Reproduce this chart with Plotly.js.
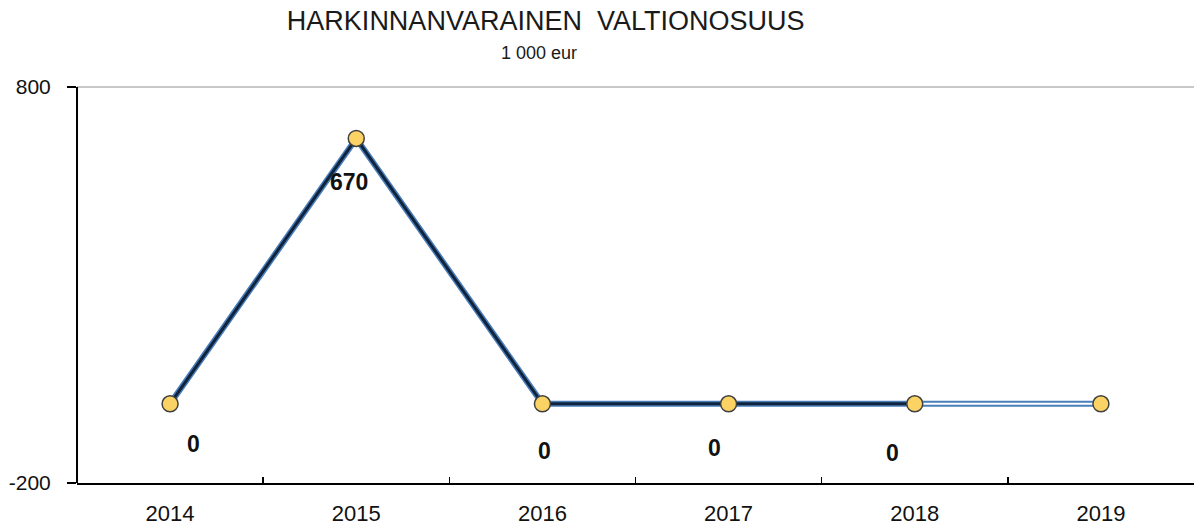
<!DOCTYPE html>
<html>
<head>
<meta charset="utf-8">
<script src="https://cdn.plot.ly/plotly-3.0.1.min.js"></script>
<style>html,body{margin:0;padding:0;background:#fff}#chart{width:1194px;height:526px}</style>
</head>
<body>
<div id="chart"></div>
<script>
const years = ['2014', '2015', '2016', '2017', '2018', '2019'];
const values = [0, 670, 0, 0, 0, 0];
const labelYears = ['2014', '2015', '2016', '2017', '2018'];
const labelValues = [0, 670, 0, 0, 0];
const labelShiftX = [23, -7, 2, -14, -22];
const labelShiftY = [-40, -44, -47, -44, -49];

const solidYears = years.slice(0, 5), solidValues = values.slice(0, 5);
const hollowYears = years.slice(4), hollowValues = values.slice(4);

const traces = [
  {x: years, y: values, type: 'scatter', mode: 'lines', line: {color: '#4A7EBB', width: 6}, hoverinfo: 'skip'},
  {x: hollowYears, y: hollowValues, type: 'scatter', mode: 'lines', line: {color: '#ffffff', width: 2}, hoverinfo: 'skip'},
  {x: solidYears, y: solidValues, type: 'scatter', mode: 'lines', line: {color: '#10243E', width: 3}, hoverinfo: 'skip'},
  {x: years, y: values, type: 'scatter', mode: 'markers',
   marker: {size: 16, color: '#FAD364', line: {color: '#404040', width: 1.5}}}
];

const annotations = labelYears.map((yr, i) => ({
  x: years.indexOf(yr), y: labelValues[i], xref: 'x', yref: 'y', text: String(labelValues[i]),
  showarrow: false, xshift: labelShiftX[i], yshift: labelShiftY[i],
  xanchor: 'center', yanchor: 'middle',
  font: {family: 'Liberation Sans, Arial, sans-serif', size: 23, color: '#111', weight: 'bold'}
}));
annotations.push({
  text: '1 000 eur', xref: 'paper', yref: 'paper', x: 0.4136, y: 1.075,
  xanchor: 'center', yanchor: 'middle', showarrow: false,
  font: {family: 'Liberation Sans, Arial, sans-serif', size: 18, color: '#1a1a1a'}
});

const layout = {
  width: 1194, height: 526,
  margin: {l: 77, r: 0, t: 83, b: 43, pad: 0},
  paper_bgcolor: '#ffffff', plot_bgcolor: '#ffffff',
  showlegend: false,
  title: {text: 'HARKINNANVARAINEN  VALTIONOSUUS', xref: 'container', yref: 'container',
          x: 0.457, y: 0.96, xanchor: 'center', yanchor: 'middle',
          font: {family: 'Liberation Sans, Arial, sans-serif', size: 27, color: '#1a1a1a'}},
  xaxis: {type: 'category', range: [-0.5, 5.5], showline: true, linecolor: '#000', linewidth: 2,
          ticks: 'inside', tickson: 'boundaries', ticklen: 6, tickcolor: '#000', tickwidth: 1.5,
          showgrid: false, zeroline: false, ticklabelstandoff: 10, fixedrange: true,
          tickfont: {family: 'Liberation Sans, Arial, sans-serif', size: 22, color: '#111'}},
  yaxis: {range: [-200, 810], tickvals: [-200, 800], ticktext: ['-200', '800'],
          showline: false, ticks: 'outside', ticklen: 9,
          tickcolor: '#000', tickwidth: 1.5, showgrid: true, gridcolor: '#C8C8C8', gridwidth: 2,
          zeroline: false, ticklabelstandoff: 12, fixedrange: true,
          tickfont: {family: 'Liberation Sans, Arial, sans-serif', size: 21, color: '#111'}},
  shapes: [{type: 'line', xref: 'paper', yref: 'y', x0: 0, x1: 0, y0: -200, y1: 800,
            line: {color: '#000', width: 2}}],
  annotations: annotations
};

Plotly.newPlot('chart', traces, layout, {displayModeBar: false, staticPlot: true});
</script>
</body>
</html>
